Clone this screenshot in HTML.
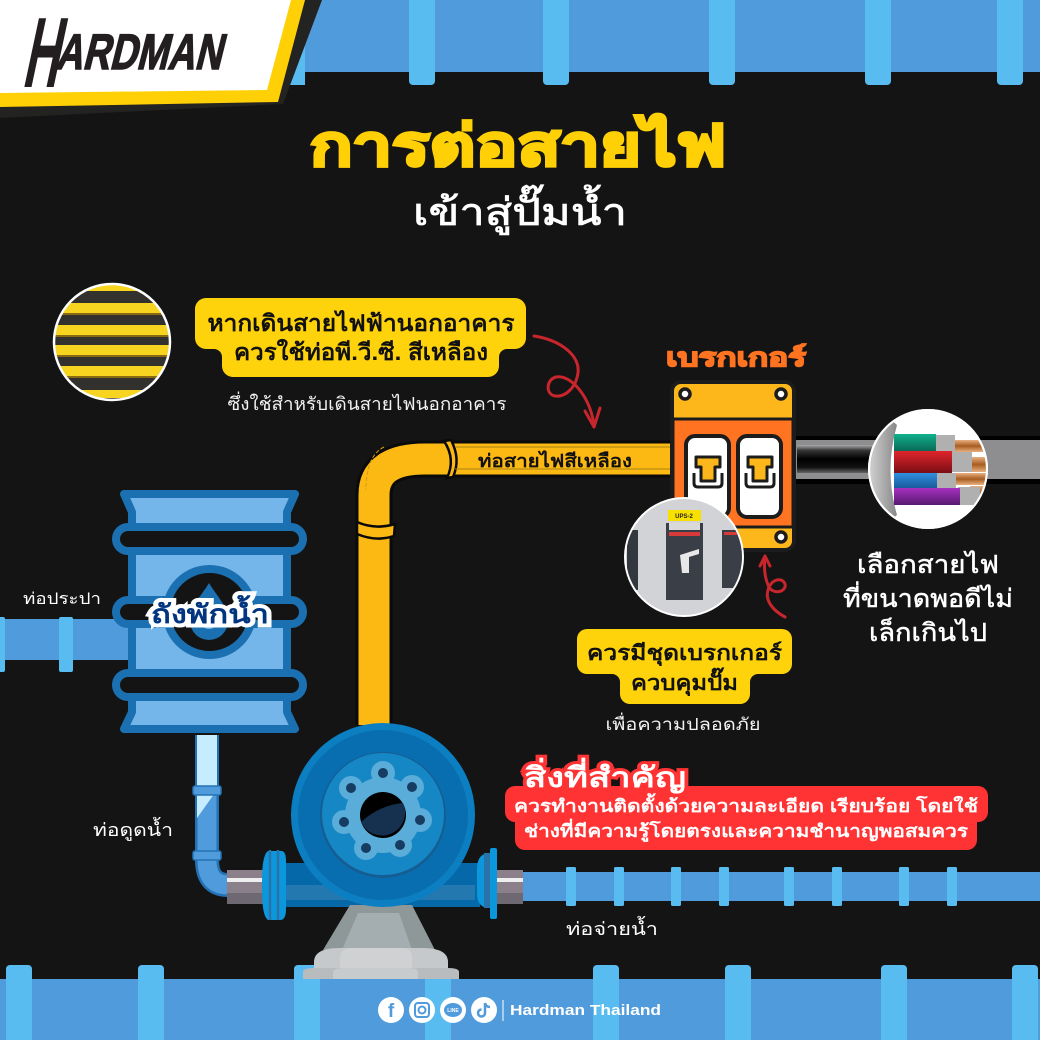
<!DOCTYPE html>
<html lang="th"><head><meta charset="utf-8"><title>Hardman</title>
<style>
html,body{margin:0;padding:0;background:#141414}
svg{display:block}
text{font-family:"Liberation Sans","Noto Sans CJK SC",sans-serif}
</style></head><body>
<svg width="1040" height="1040" viewBox="0 0 1040 1040" xmlns="http://www.w3.org/2000/svg">
<defs>
<clipPath id="c1"><circle cx="112" cy="342" r="57"/></clipPath>
<clipPath id="c2"><circle cx="928" cy="469" r="58"/></clipPath>
<clipPath id="c3"><circle cx="684" cy="557" r="58"/></clipPath>
<linearGradient id="cab" x1="0" y1="0" x2="0" y2="1"><stop offset="0" stop-color="#aaa"/><stop offset=".2" stop-color="#333"/><stop offset=".5" stop-color="#000"/><stop offset=".8" stop-color="#111"/><stop offset="1" stop-color="#666"/></linearGradient>
<linearGradient id="cop" x1="0" y1="0" x2="0" y2="1"><stop offset="0" stop-color="#e8b080"/><stop offset=".5" stop-color="#a85c20"/><stop offset="1" stop-color="#e8b080"/></linearGradient>
<linearGradient id="gG" x1="0" y1="0" x2="0" y2="1"><stop offset="0" stop-color="#10b08c"/><stop offset="1" stop-color="#0a6a56"/></linearGradient>
<linearGradient id="gR" x1="0" y1="0" x2="0" y2="1"><stop offset="0" stop-color="#e0252c"/><stop offset="1" stop-color="#7a0f14"/></linearGradient>
<linearGradient id="gB" x1="0" y1="0" x2="0" y2="1"><stop offset="0" stop-color="#3090e0"/><stop offset="1" stop-color="#1a5a9c"/></linearGradient>
<linearGradient id="gP" x1="0" y1="0" x2="0" y2="1"><stop offset="0" stop-color="#a830c0"/><stop offset="1" stop-color="#561a70"/></linearGradient>
<linearGradient id="gM" x1="0" y1="0" x2="1" y2="0"><stop offset="0" stop-color="#ddd"/><stop offset="1" stop-color="#888"/></linearGradient>
</defs>
<rect width="1040" height="1040" fill="#141414"/>

<!-- top pipe -->
<rect x="285" y="0" width="755" height="72" fill="#509bdb"/>
<g fill="#58bcf0">
<path d="M287 0h18v85h-18z"/>
<rect x="409" y="-8" width="26" height="93" rx="4"/><rect x="543" y="-8" width="26" height="93" rx="4"/><rect x="709" y="-8" width="26" height="93" rx="4"/><rect x="865" y="-8" width="26" height="93" rx="4"/><rect x="997" y="-8" width="26" height="93" rx="4"/>
</g>
<!-- logo -->
<polygon points="322,0 283,104 0,118 0,0" fill="#232321"/>
<polygon points="305,0 278,102 0,107 0,0" fill="#ffd006"/>
<polygon points="291,0 267,90 0,93 0,0" fill="#fff"/>
<text transform="translate(21 87) skewX(-12)" font-size="100" font-weight="700" fill="#231f20" textLength="36" lengthAdjust="spacingAndGlyphs">H</text>
<text transform="translate(55 69) skewX(-14)" font-size="50" font-weight="700" fill="#231f20" stroke="#231f20" stroke-width="1.5" textLength="166" lengthAdjust="spacingAndGlyphs">ARDMAN</text>

<!-- title -->
<text x="518" y="165" font-size="56" font-weight="700" fill="#ffd006" text-anchor="middle" stroke="#ffd006" stroke-width="3" textLength="416" lengthAdjust="spacingAndGlyphs">การต่อสายไฟ</text>
<text x="520" y="225" font-size="38" font-weight="400" fill="#fff" text-anchor="middle" stroke="#fff" stroke-width=".8" textLength="214" lengthAdjust="spacingAndGlyphs">เข้าสู่ปั๊มน้ำ</text>

<!-- photo circle left -->
<g clip-path="url(#c1)">
<rect x="50" y="280" width="125" height="125" fill="#33312e"/>
<g fill="#f6d420"><rect x="50" y="285" width="125" height="6"/><rect x="50" y="303" width="125" height="10"/><rect x="50" y="325" width="125" height="10"/><rect x="50" y="345" width="125" height="10"/><rect x="50" y="366" width="125" height="10"/><rect x="50" y="390" width="125" height="8"/></g>
<g fill="#8a6a10"><rect x="50" y="313" width="125" height="2"/><rect x="50" y="335" width="125" height="2"/><rect x="50" y="355" width="125" height="2"/><rect x="50" y="376" width="125" height="2"/></g>
</g>
<circle cx="112" cy="342" r="58" fill="none" stroke="#fff" stroke-width="2.5"/>

<!-- callout 1 -->
<path d="M206 298H515a11 11 0 0 1 11 11V338a11 11 0 0 1 -11 11H507a8 8 0 0 0 -8 8V366a11 11 0 0 1 -11 11H233a11 11 0 0 1 -11 -11V357a8 8 0 0 0 -8 -8H206a11 11 0 0 1 -11 -11V309a11 11 0 0 1 11 -11z" fill="#ffd30b"/>
<text x="361" y="331" font-size="23" font-weight="700" fill="#111" text-anchor="middle" textLength="307" lengthAdjust="spacingAndGlyphs">หากเดินสายไฟฟ้านอกอาคาร</text>
<text x="361" y="360" font-size="23" font-weight="700" fill="#111" text-anchor="middle" textLength="254" lengthAdjust="spacingAndGlyphs">ควรใช้ท่อพี.วี.ซี. สีเหลือง</text>
<text x="367" y="410" font-size="18" fill="#f2f2f2" text-anchor="middle" textLength="279" lengthAdjust="spacingAndGlyphs">ซึ่งใช้สำหรับเดินสายไฟนอกอาคาร</text>

<!-- red arrows -->
<g fill="none" stroke="#c9252c" stroke-width="3" stroke-linecap="round" stroke-linejoin="round">
<path d="M534 336C560 340 580 355 578 373C576 388 565 397 556 396C546 396 545 380 556 377C572 374 592 400 594 427"/>
<path d="M585 411L594 427L600 408"/>
<path d="M785 617C772 610 765 600 768 590C770 580 782 576 785 584C787 592 772 596 768 585C764 575 764 565 765 557"/>
<path d="M760 566L765 556L770 566"/>
</g>

<!-- yellow conduit -->
<path d="M374 725V495Q374 459 425 459H672" fill="none" stroke="#0a0a0a" stroke-width="37"/>
<path d="M374 725V495Q374 459 425 459H672" fill="none" stroke="#fdb913" stroke-width="31"/>
<path d="M384 447Q366 456 366 490" fill="none" stroke="#d59a10" stroke-width="1" stroke-dasharray="4 2"/>
<path d="M357 522q18 8 38 2l-1 12q-18 6 -37 -2z" fill="#fdb913" stroke="#0a0a0a" stroke-width="2.500"/>
<path d="M444 441q12 18 3 37l6 -1q8 -18 -2 -37z" fill="#fdb913" stroke="#0a0a0a" stroke-width="2.500"/>
<path d="M455 447H672M455 469H672" stroke="#a88410" stroke-width="1"/>
<text x="555" y="467" font-size="18" font-weight="700" fill="#111" text-anchor="middle" textLength="154" lengthAdjust="spacingAndGlyphs">ท่อสายไฟสีเหลือง</text>

<!-- cable right -->
<rect x="794" y="436" width="246" height="48" fill="#000"/>
<rect x="795" y="440" width="245" height="39" fill="#8e8e90"/>
<rect x="797" y="445" width="120" height="28" fill="url(#cab)"/>

<!-- breaker -->
<rect x="672" y="382" width="122" height="168" rx="9" fill="#fdb71a" stroke="#1c1c1c" stroke-width="4"/>
<rect x="673" y="419" width="120" height="108" fill="#ff7321" stroke="#1c1c1c" stroke-width="3"/>
<g fill="#fff" stroke="#1c1c1c" stroke-width="3.5">
<circle cx="685" cy="394" r="5"/><circle cx="781" cy="394" r="5"/><circle cx="781" cy="537" r="5"/><circle cx="685" cy="537" r="5"/>
<rect x="686" y="436" width="43" height="81" rx="9" stroke-width="4"/><rect x="738" y="436" width="43" height="81" rx="9" stroke-width="4"/>
</g>
<g stroke="#1c1c1c" stroke-width="3" stroke-linejoin="round">
<path d="M696 457h24v10h-5v14h-14v-14h-5z" fill="#fdb71a"/><path d="M694 473v10q0 4 4 4h20q4 0 4 -4v-10" fill="none"/>
<path d="M748 457h24v10h-5v14h-14v-14h-5z" fill="#fdb71a"/><path d="M746 473v10q0 4 4 4h20q4 0 4 -4v-10" fill="none"/>
</g>
<text x="736" y="366" font-size="25" font-weight="700" fill="#ff7321" stroke="#ff7321" stroke-width="1.5" text-anchor="middle" textLength="140" lengthAdjust="spacingAndGlyphs">เบรกเกอร์</text>

<!-- wires circle -->
<circle cx="928" cy="469" r="60" fill="#fff"/>
<g clip-path="url(#c2)">
<path d="M897 425Q884 470 897 515L880 530Q850 470 880 410z" fill="url(#gM)"/>
<rect x="950" y="440" width="40" height="12" fill="url(#cop)"/><rect x="965" y="457" width="25" height="15" fill="url(#cop)"/><rect x="950" y="473" width="40" height="12" fill="url(#cop)"/><rect x="970" y="486" width="16" height="14" fill="url(#cop)"/>
<rect x="935" y="435" width="20" height="17" fill="#b0b0b0"/><rect x="950" y="452" width="22" height="20" fill="#b0b0b0"/><rect x="935" y="473" width="21" height="15" fill="#b0b0b0"/><rect x="958" y="487" width="22" height="18" fill="#b0b0b0"/>
<rect x="894" y="434" width="42" height="17" fill="url(#gG)"/><rect x="894" y="451" width="58" height="22" fill="url(#gR)"/><rect x="894" y="473" width="43" height="15" fill="url(#gB)"/><rect x="894" y="488" width="66" height="17" fill="url(#gP)"/>
</g>
<circle cx="928" cy="469" r="59" fill="none" stroke="#fff" stroke-width="2"/>

<!-- breaker photo -->
<circle cx="684" cy="557" r="60" fill="#fff"/>
<g clip-path="url(#c3)">
<rect x="620" y="495" width="130" height="125" fill="#d2d3d6"/>
<rect x="627" y="530" width="11" height="60" fill="#33373e"/>
<rect x="666" y="523" width="37" height="77" fill="#3a3e46"/>
<rect x="669" y="523" width="31" height="7" fill="#d9d9d9"/><rect x="669" y="532" width="31" height="4" fill="#d83a3a"/>
<rect x="668" y="510" width="33" height="11" fill="#f7e000"/>
<path d="M680 555l19 -6v5l-10 3v16h-7z" fill="#e8e8e8"/>
<rect x="722" y="530" width="21" height="58" fill="#3a3e46"/>
<rect x="724" y="532" width="19" height="3" fill="#d83a3a"/>
</g>
<text x="684" y="518" font-size="6" font-weight="700" fill="#222" text-anchor="middle">UPS-2</text>

<!-- right text -->
<g font-size="25" fill="#fff" text-anchor="middle" stroke="#fff" stroke-width=".5">
<text x="928" y="573" textLength="142" lengthAdjust="spacingAndGlyphs">เลือกสายไฟ</text>
<text x="928" y="607" textLength="170" lengthAdjust="spacingAndGlyphs">ที่ขนาดพอดีไม่</text>
<text x="928" y="641" textLength="118" lengthAdjust="spacingAndGlyphs">เล็กเกินไป</text>
</g>

<!-- callout 2 -->
<path d="M587 629H782a10 10 0 0 1 10 10V664a10 10 0 0 1 -10 10H758a8 8 0 0 0 -8 8V694a10 10 0 0 1 -10 10H630a10 10 0 0 1 -10 -10V682a8 8 0 0 0 -8 -8H587a10 10 0 0 1 -10 -10V639a10 10 0 0 1 10 -10z" fill="#ffd30b"/>
<text x="684.500" y="660" font-size="21" font-weight="700" fill="#111" text-anchor="middle" textLength="195" lengthAdjust="spacingAndGlyphs">ควรมีชุดเบรกเกอร์</text>
<text x="684.500" y="690" font-size="21" font-weight="700" fill="#111" text-anchor="middle" textLength="107" lengthAdjust="spacingAndGlyphs">ควบคุมปั๊ม</text>
<text x="683" y="730" font-size="17" fill="#f2f2f2" text-anchor="middle" textLength="155" lengthAdjust="spacingAndGlyphs">เพื่อความปลอดภัย</text>

<!-- red box -->
<path d="M515 786H978a10 10 0 0 1 10 10V812a10 10 0 0 1 -10 10H977V840a10 10 0 0 1 -10 10H525a10 10 0 0 1 -10 -10V822a10 10 0 0 1 -10 -10V796a10 10 0 0 1 10 -10z" fill="#ff3333"/>
<text x="605" y="787" font-size="28" font-weight="700" fill="#fff" stroke="#ff3333" stroke-width="6" paint-order="stroke" text-anchor="middle" textLength="162" lengthAdjust="spacingAndGlyphs">สิ่งที่สำคัญ</text>
<text x="746" y="812" font-size="17.500" font-weight="700" fill="#fff" text-anchor="middle" textLength="464" lengthAdjust="spacingAndGlyphs">ควรทำงานติดตั้งด้วยความละเอียด เรียบร้อย โดยใช้</text>
<text x="746" y="837" font-size="17.500" font-weight="700" fill="#fff" text-anchor="middle" textLength="444" lengthAdjust="spacingAndGlyphs">ช่างที่มีความรู้โดยตรงและความชำนาญพอสมควร</text>

<!-- inlet pipe -->
<rect x="0" y="619" width="130" height="41" fill="#509bdb"/>
<rect x="-6" y="617" width="11" height="55" rx="2" fill="#58bcf0"/>
<rect x="59" y="617" width="14" height="55" rx="2" fill="#58bcf0"/>
<text x="62" y="604" font-size="16" fill="#fff" text-anchor="middle" textLength="78" lengthAdjust="spacingAndGlyphs">ท่อประปา</text>

<!-- tank -->
<path d="M124 494H295L287 512V712L295 729H124L132 712V512z" fill="#74b5ea" stroke="#1b70b1" stroke-width="8" stroke-linejoin="round"/>
<g fill="#141414" stroke="#1b70b1" stroke-width="8">
<rect x="116" y="527" width="187" height="24" rx="12"/>
<rect x="116" y="600" width="187" height="24" rx="12"/>
<rect x="116" y="673" width="187" height="24" rx="12"/>
</g>
<circle cx="209.500" cy="612" r="43" fill="#141414" stroke="#1b70b1" stroke-width="8"/>
<path d="M209 583C200 598 190 606 190 621A19 19 0 0 0 228 621C228 606 218 598 209 583z" fill="#1b70b1"/>
<path d="M209 598C204 606 200 612 200 620A9 9 0 0 0 218 620C218 612 214 606 209 598z" fill="#74b5ea"/>
<text x="210" y="623" font-size="26" font-weight="700" fill="#02357f" stroke="#fff" stroke-width="8" paint-order="stroke" stroke-linejoin="miter" text-anchor="middle" textLength="118" lengthAdjust="spacingAndGlyphs">ถังพักน้ำ</text>

<!-- suction pipe -->
<path d="M207 735V860Q207 885 228 885" fill="none" stroke="#2472b4" stroke-width="24"/>
<path d="M207 735V860Q207 885 228 885" fill="none" stroke="#509bdb" stroke-width="19"/>
<path d="M197 735H217V790L197 818z" fill="#c6ecff"/>
<rect x="193" y="786" width="28" height="9" rx="2" fill="#509bdb" stroke="#2472b4" stroke-width="1.500"/>
<rect x="193" y="851" width="28" height="9" rx="2" fill="#509bdb" stroke="#2472b4" stroke-width="1.500"/>
<text x="133" y="836" font-size="18" fill="#fff" text-anchor="middle" textLength="80" lengthAdjust="spacingAndGlyphs">ท่อดูดน้ำ</text>

<!-- outlet pipe -->
<rect x="522" y="872" width="518" height="29" fill="#509bdb"/>
<g fill="#58bcf0"><rect x="566" y="867" width="10" height="39" rx="1.500"/><rect x="614" y="867" width="10" height="39" rx="1.500"/><rect x="671" y="867" width="10" height="39" rx="1.500"/><rect x="719" y="867" width="10" height="39" rx="1.500"/><rect x="784" y="867" width="10" height="39" rx="1.500"/><rect x="832" y="867" width="10" height="39" rx="1.500"/><rect x="899" y="867" width="10" height="39" rx="1.500"/><rect x="947" y="867" width="10" height="39" rx="1.500"/></g>
<text x="612" y="935" font-size="18" fill="#fff" text-anchor="middle" textLength="92" lengthAdjust="spacingAndGlyphs">ท่อจ่ายน้ำ</text>

<!-- bottom pipe -->
<rect x="0" y="979" width="1040" height="61" fill="#509bdb"/>
<g fill="#58bcf0">
<rect x="6" y="965" width="26" height="85" rx="4"/><rect x="138" y="965" width="26" height="85" rx="4"/><rect x="294" y="965" width="26" height="85" rx="4"/><rect x="425" y="979" width="26" height="70"/><rect x="593" y="965" width="26" height="85" rx="4"/><rect x="725" y="965" width="26" height="85" rx="4"/><rect x="881" y="965" width="26" height="85" rx="4"/><rect x="1012" y="965" width="26" height="85" rx="4"/>
</g>

<!-- pump body -->
<rect x="227" y="870" width="40" height="34" fill="#8b8089"/><rect x="227" y="878" width="40" height="4" fill="#eee"/><rect x="227" y="893" width="40" height="11" fill="#6d6872"/>
<rect x="490" y="870" width="33" height="34" fill="#8b8089"/><rect x="490" y="878" width="33" height="4" fill="#eee"/><rect x="490" y="893" width="33" height="11" fill="#6d6872"/>
<rect x="280" y="863" width="200" height="44" fill="#0568a8"/>
<rect x="285" y="885" width="190" height="15" fill="#2378b0"/>
<path d="M268 851h12q6 -1 6 10v48q0 11 -6 11h-12q-6 -4 -6 -30v-9q0 -26 6 -30z" fill="#0c97dc"/>
<path d="M270 850v70M278 850v70" stroke="#2a73a8" stroke-width="2.500" fill="none"/>
<path d="M490 853q-12 0 -13 14v27q0 14 13 14z" fill="#0c97dc"/>
<rect x="484" y="853" width="6" height="55" fill="#2a73a8"/>
<rect x="490" y="848" width="7" height="71" rx="2" fill="#0c97dc"/>
<path d="M350 905H412L435 950H323z" fill="#8f9899"/>
<path d="M358 913L399 913L412 950H342z" fill="#a4adaf"/>
<path d="M314 968V962Q314 948 340 948H422Q448 948 448 962V968z" fill="#c6c9cb"/>
<path d="M340 968V958Q340 948 352 948H402Q412 948 412 958V968z" fill="#cfd1d3"/>
<path d="M303 979V972Q303 968 314 968H448Q459 968 459 972V979z" fill="#b8bcbe"/>
<path d="M333 979V972Q333 968 345 968H408Q418 968 418 972V979z" fill="#c8cbcd"/>
<circle cx="383" cy="815" r="92" fill="#0b7fc1"/>
<circle cx="383" cy="815" r="85" fill="#096eaf"/>
<circle cx="383" cy="815" r="63" fill="#155e94"/>
<circle cx="383" cy="814" r="61" fill="#1687c5"/>
<g fill="#5aacd9">
<circle cx="383" cy="815" r="38"/>
<circle cx="383" cy="773" r="12"/><circle cx="412" cy="787" r="12"/><circle cx="420" cy="820" r="12"/><circle cx="400" cy="845" r="12"/><circle cx="366" cy="848" r="12"/><circle cx="344" cy="822" r="12"/><circle cx="351" cy="788" r="12"/>
</g>
<g fill="#173c61">
<circle cx="383" cy="773" r="5"/><circle cx="412" cy="787" r="5"/><circle cx="420" cy="820" r="5"/><circle cx="400" cy="845" r="5"/><circle cx="366" cy="848" r="5"/><circle cx="344" cy="822" r="5"/><circle cx="351" cy="788" r="5"/>
</g>
<circle cx="383" cy="815" r="23" fill="#000"/>
<path d="M361 822Q380 805 403 803A23 23 0 1 1 361 822z" fill="#16304f"/>

<!-- footer -->
<g fill="#fff">
<circle cx="391" cy="1010" r="13"/><circle cx="422" cy="1010" r="13"/><circle cx="453" cy="1010" r="13"/><circle cx="484" cy="1010" r="13"/>
<rect x="502.500" y="1000" width="1" height="21"/>
</g>
<text x="391" y="1017" font-size="19" font-weight="700" fill="#509bdb" text-anchor="middle">f</text>
<rect x="415" y="1003" width="14" height="14" rx="3" fill="none" stroke="#509bdb" stroke-width="2"/><circle cx="422" cy="1010" r="3.500" fill="none" stroke="#509bdb" stroke-width="2"/>
<ellipse cx="453" cy="1010" rx="9" ry="7" fill="#509bdb"/>
<text x="453" y="1012" font-size="5" font-weight="700" fill="#fff" text-anchor="middle">LINE</text>
<path d="M485 1003v10a3.500 3.500 0 1 1 -3.500 -3.500M485 1003q1 4 5 4" fill="none" stroke="#509bdb" stroke-width="2.500"/>
<text x="510" y="1015" font-size="15" font-weight="700" fill="#fff" textLength="151" lengthAdjust="spacingAndGlyphs">Hardman Thailand</text>
</svg>
</body></html>
